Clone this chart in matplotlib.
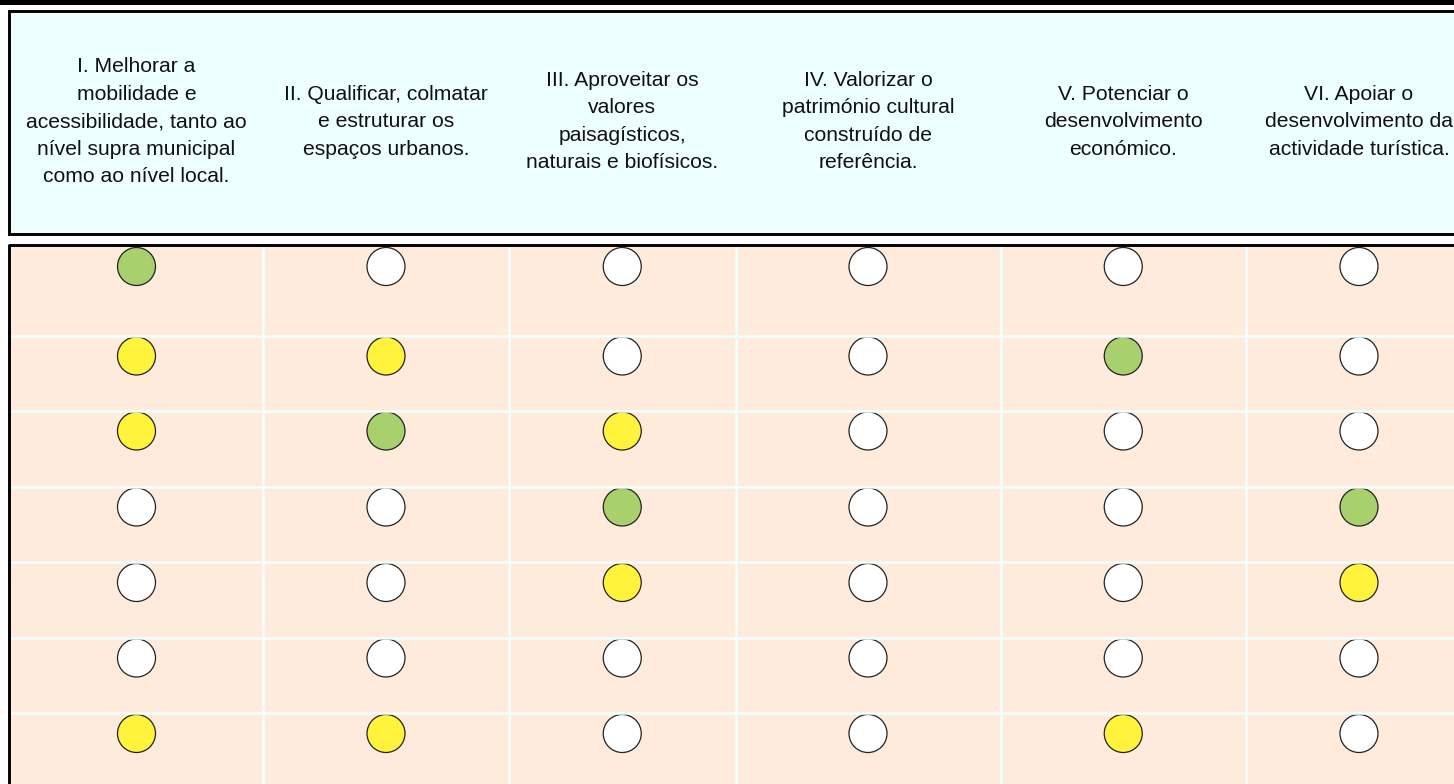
"""
Matriz de objectivos: cabeçalho com os seis objectivos e grelha de
círculos coloridos (verde / amarelo / branco) por linha.
"""

import matplotlib.pyplot as plt
from matplotlib.patches import Rectangle, Circle

# ── data ────────────────────────────────────────────────────────────────────
objectives = [
    "I. Melhorar a\nmobilidade e\nacessibilidade, tanto ao\nnível supra municipal\ncomo ao nível local.",
    "II. Qualificar, colmatar\ne estruturar os\nespaços urbanos.",
    "III. Aproveitar os\nvalores\npaisagísticos,\nnaturais e biofísicos.",
    "IV. Valorizar o\npatrimónio cultural\nconstruído de\nreferência.",
    "V. Potenciar o\ndesenvolvimento\neconómico.",
    "VI. Apoiar o\ndesenvolvimento da\nactividade turística.",
]

# G = verde, Y = amarelo, W = branco (one string per row, one char per column)
row_status = [
    "GWWWWW",
    "YYWWGW",
    "YGYWWW",
    "WWGWWG",
    "WWYWWY",
    "WWWWWW",
    "YYWWYW",
]

# ── layout / style ──────────────────────────────────────────────────────────
W, H = 1454, 784
COL_EDGES = [10, 263, 509, 735.5, 1000.5, 1246, 1472]
ROW_EDGES = [246, 335.5, 410.5, 486.5, 562, 637.5, 713, 789]
RADIUS = 19

HEADER_BG = "#EEFFFF"
TABLE_BG = "#FEEBDC"
GRID = "#F0FFFF"
COLORS = {"G": "#A8D06C", "Y": "#FFF33B", "W": "#FFFFFF"}

plt.rcParams["font.family"] = ["Liberation Sans", "DejaVu Sans"]

fig = plt.figure(figsize=(W / 100, H / 100), dpi=100)
fig.patch.set_facecolor("white")
ax = fig.add_axes([0, 0, 1, 1])
ax.set_xlim(0, W)
ax.set_ylim(H, 0)
ax.axis("off")

# top black bar
ax.add_patch(Rectangle((0, -2), W + 10, 6.5, facecolor="black", edgecolor="none"))

# header box
ax.add_patch(Rectangle((8.5, 11), W + 20, 222.5, facecolor=HEADER_BG,
                       edgecolor="black", linewidth=2.1))

# table body
ax.add_patch(Rectangle((8.5, 245), W + 40, 600, facecolor=TABLE_BG,
                       edgecolor="none"))

# white grid lines
for x in COL_EDGES[1:-1]:
    ax.plot([x, x], [246, H + 5], color=GRID, linewidth=1.8, solid_capstyle="butt")
for y in ROW_EDGES[1:-1]:
    ax.plot([10, W + 10], [y, y], color=GRID, linewidth=1.8, solid_capstyle="butt")

# table borders (top + left)
ax.plot([8.5, W + 10], [245, 245], color="black", linewidth=2.1, solid_capstyle="butt")
ax.plot([8.5, 8.5], [243.5, H + 5], color="black", linewidth=2.1, solid_capstyle="butt")

# header labels
for j, label in enumerate(objectives):
    cx = (COL_EDGES[j] + COL_EDGES[j + 1]) / 2
    lines = label.split("\n")
    n = len(lines)
    for i, line in enumerate(lines):
        y = 127 + (i - (n - 1) / 2) * 27.5
        ax.text(cx, y, line, ha="center", va="baseline", fontsize=15.2,
                color="#111111")

# circles
for r, row in enumerate(row_status):
    cy = ROW_EDGES[r] + RADIUS + 1.5
    for j, s in enumerate(row):
        cx = (COL_EDGES[j] + COL_EDGES[j + 1]) / 2
        ax.add_patch(Circle((cx, cy), RADIUS, facecolor=COLORS[s],
                            edgecolor="#222222", linewidth=0.9))

fig.savefig("out.png", dpi=100)
